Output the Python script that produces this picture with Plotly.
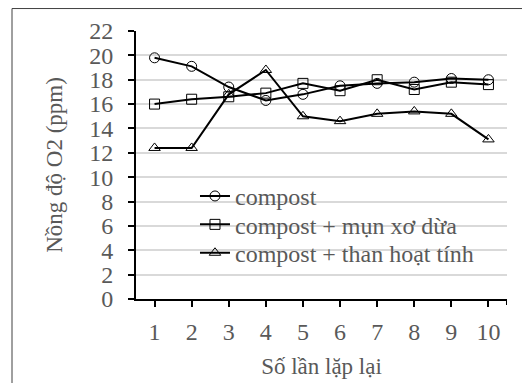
import plotly.graph_objects as go

# Measurement rounds and O2 concentrations (ppm)
rounds = [1, 2, 3, 4, 5, 6, 7, 8, 9, 10]
compost = [19.8, 19.1, 17.4, 16.3, 16.8, 17.5, 17.7, 17.8, 18.1, 18.0]
compost_coir = [16.0, 16.4, 16.6, 16.9, 17.7, 17.1, 18.0, 17.2, 17.8, 17.6]
compost_carbon = [12.4, 12.4, 16.8, 18.8, 15.0, 14.6, 15.2, 15.4, 15.2, 13.1]

series_names = ["compost", "compost + mụn xơ dừa", "compost + than hoạt tính"]
series_symbols = ["circle-open", "square-open", "triangle-up-open"]
y_ticks = list(range(0, 23, 2))

FONT = "Liberation Serif"
GRAY = "#595959"
FS = 24
TITLE_FS = 23

# one single-entry legend per series so the rows can be spaced tightly
legend_ids = ["legend", "legend2", "legend3"]
legend_rows_y = [0.383, 0.277, 0.171]

fig = go.Figure()
for name, vals, sym, lg in zip(series_names, [compost, compost_coir, compost_carbon],
                               series_symbols, legend_ids):
    fig.add_trace(go.Scatter(
        x=rounds, y=vals, name=name, mode="lines+markers", legend=lg,
        line=dict(color="black", width=2),
        marker=dict(symbol=sym, size=10, color="black",
                    line=dict(color="black", width=1)),
    ))

legend_style = dict(x=0.159, xanchor="left", yanchor="middle",
                    bgcolor="rgba(0,0,0,0)",
                    font=dict(family=FONT, size=FS, color=GRAY), itemwidth=30)

fig.update_layout(
    width=522, height=383,
    margin=dict(l=136, r=15, t=30.5, b=84),
    paper_bgcolor="white", plot_bgcolor="white",
    font=dict(family=FONT, color=GRAY, size=FS),
    showlegend=True,
    legend=dict(y=legend_rows_y[0], **legend_style),
    legend2=dict(y=legend_rows_y[1], **legend_style),
    legend3=dict(y=legend_rows_y[2], **legend_style),
    xaxis=dict(
        range=[0.5, 10.5], tickvals=rounds, ticktext=[str(r) for r in rounds],
        showgrid=False, zeroline=False, automargin=False,
        showline=True, linecolor="black", linewidth=2,
        ticks="outside", ticklen=6, tickwidth=2, tickcolor="black",
        ticklabelstandoff=4,
        tickfont=dict(family=FONT, size=FS, color=GRAY),
        title=dict(text="Số lần lặp lại", font=dict(family=FONT, size=TITLE_FS, color=GRAY), standoff=14),
    ),
    yaxis=dict(
        range=[0, 22], tickvals=y_ticks,
        showgrid=True, gridcolor="#d9d9d9", gridwidth=1.5, zeroline=False, automargin=False,
        showline=True, linecolor="black", linewidth=2,
        ticks="outside", ticklen=6, tickwidth=2, tickcolor="black",
        ticklabelstandoff=10,
        tickfont=dict(family=FONT, size=FS, color=GRAY),
        title=dict(text="Nồng độ O2 (ppm)", font=dict(family=FONT, size=TITLE_FS, color=GRAY), standoff=20),
    ),
    shapes=[
        # outer chart frame
        dict(type="rect", xref="paper", yref="paper",
             x0=-0.3342, y0=-0.5, x1=1.2, y1=1.0838,
             line=dict(color="#404040", width=1), layer="below"),
        # closing tick at the end of the category axis
        dict(type="line", xref="x", yref="paper", x0=10.5, x1=10.5,
             y0=0, y1=-0.022, line=dict(color="black", width=2)),
    ],
)

fig.write_html("out.html")
